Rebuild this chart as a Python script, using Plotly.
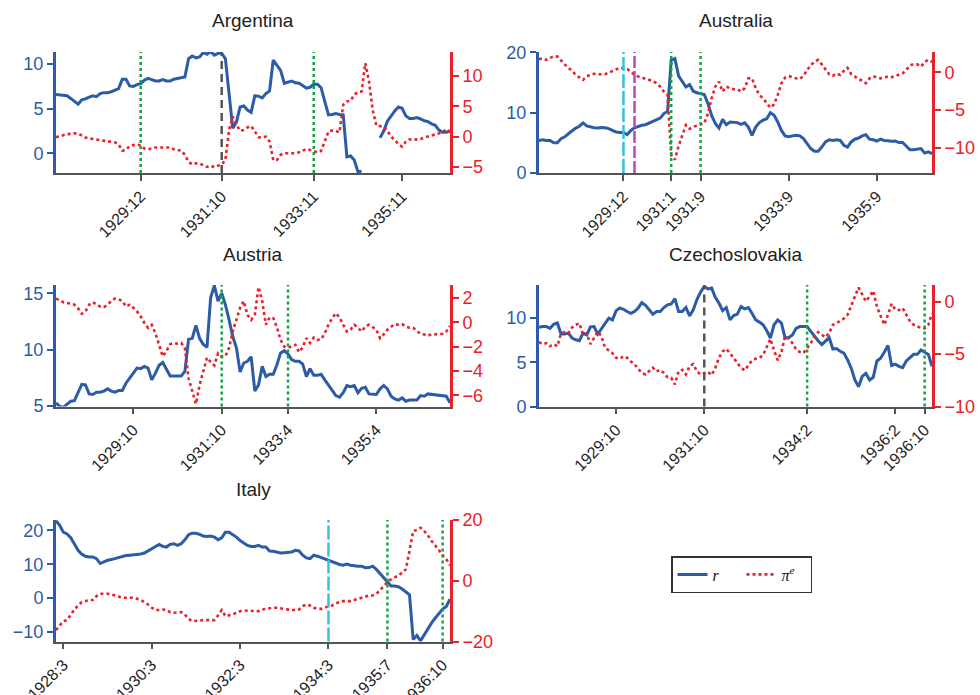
import plotly.graph_objects as go

# ---------------- data ----------------
months = [f"{y}:{m}" for y in range(1928, 1937) for m in range(1, 13)]

arg_r = [6.6, 6.57, 6.5, 6.45, 6.15, 5.85, 5.5, 6.0, 6.1, 6.3,
         6.45, 6.35, 6.7, 6.8, 6.8, 6.9, 7.1, 7.25, 8.3, 8.3,
         7.55, 7.5, 7.7, 7.8, 8.2, 8.4, 8.25, 8.1, 8.1, 8.25,
         8.1, 8.1, 8.3, 8.4, 8.45, 8.55, 10.6, 10.9, 10.7, 10.8,
         11.3, 11.1, 11.4, 11.0, 11.2, 11.2, 10.6, 6.9, 2.8, 3.5,
         5.2, 5.3, 4.85, 4.6, 6.45, 6.4, 6.2, 6.7, 7.0, 10.45,
         9.8, 9.3, 7.85, 8.0, 8.1, 7.9, 7.85, 7.6, 7.3, 7.4,
         7.75, 7.75, 7.35, 5.8, 4.3, 4.35, 4.45, 4.35, 4.3, -0.4,
         -0.3, -0.75, -2.05, -2.0, None, None, None, None, 1.75, 2.5,
         3.6, 4.2, 4.75, 5.2, 5.05, 4.2, 3.9, 3.9, 4.0, 3.85,
         3.65, 3.55, 3.3, 3.15, 2.6, 2.35, 2.35, 2.5]
arg_pi = [-0.1, 0.1, 0.3, 0.4, 0.45, 0.55, 0.5, 0.15, -0.15, -0.3,
          -0.4, -0.45, -0.5, -0.6, -0.8, -0.8, -0.95, -1.25, -2.35, -2.2,
          -1.55, -1.4, -1.3, -1.45, -1.95, -2.1, -1.9, -1.8, -1.8, -1.75,
          -1.8, -1.8, -2.1, -2.25, -2.3, -3.0, -4.15, -4.6, -4.4, -4.45,
          -4.7, -5.0, -4.8, -5.05, -4.8, -4.6, -3.85, 1.1, 3.3, 1.95,
          0.95, 1.1, 1.5, 1.75, 0.85, -0.1, -0.15, 0.0, -0.8, -3.85,
          -3.85, -3.0, -2.75, -2.75, -2.65, -2.75, -2.6, -2.35, -2.05, -2.2,
          -2.35, -2.6, -2.35, -0.8, 0.85, 1.0, 0.95, 0.7, 5.25, 5.8,
          5.9, 6.9, 7.35, 7.45, 12.1, 9.1, 4.4, 1.8, 1.75, 1.65,
          0.95, 0.0, -0.55, -1.25, -1.65, -0.85, -0.45, -0.55, -0.45, -0.4,
          -0.15, 0.0, 0.15, 0.4, 0.5, 0.7, 1.25, 0.7]
arg_ticks = ["1929:12", "1931:10", "1933:11", "1935:11"]
arg_dotted = ["1929:12", "1933:11"]
arg_dashed = ["1931:10"]

aus_r = [5.4, 5.5, 5.4, 5.4, 5.0, 5.0, 5.7, 6.0, 6.5, 7.05,
         7.45, 7.75, 8.3, 7.8, 7.6, 7.5, 7.45, 7.55, 7.5, 7.35,
         7.05, 6.8, 6.7, 6.7, 6.35, 7.05, 7.5, 7.75, 7.9, 8.0,
         8.3, 8.55, 8.85, 9.1, 9.85, 10.2, 18.7, 18.95, 16.1, 15.1,
         14.25, 14.65, 13.55, 13.3, 13.15, 13.0, 11.5, 9.55, 8.2, 7.45,
         8.9, 8.0, 8.45, 8.35, 8.35, 8.05, 8.3, 7.6, 6.25, 7.6,
         8.35, 8.75, 9.0, 10.0, 9.55, 8.45, 7.05, 6.15, 6.0, 6.15,
         6.25, 6.15, 5.7, 4.85, 4.05, 3.6, 3.6, 4.3, 5.15, 5.5,
         5.4, 5.5, 5.4, 4.6, 4.3, 5.15, 5.6, 5.8, 6.15, 6.35,
         5.6, 5.5, 5.3, 5.6, 5.4, 5.35, 5.25, 5.3, 5.05, 5.05,
         4.4, 3.85, 3.85, 3.9, 4.05, 3.3, 3.5, 3.2]
aus_pi = [1.75, 1.85, 1.65, 1.95, 2.15, 2.1, 1.5, 1.05, 0.6, 0.2,
          -0.35, -0.7, -1.0, -0.5, -0.35, -0.2, -0.25, -0.2, -0.25, -0.05,
          0.2, 0.45, 0.6, 0.55, 0.45, 0.1, -0.35, -0.55, -0.7, -0.8,
          -0.95, -1.15, -1.45, -1.9, -2.55, -3.0, -11.0, -11.6, -9.8, -8.3,
          -7.0, -7.5, -7.2, -7.1, -6.9, -6.75, -5.45, -3.45, -1.9, -1.25,
          -2.55, -1.9, -2.1, -2.25, -2.25, -2.55, -2.1, -0.8, -0.8, -2.1,
          -3.0, -3.45, -4.1, -4.7, -4.25, -3.0, -1.45, -0.7, -0.5, -0.7,
          -0.8, -0.9, -0.45, 0.3, 0.95, 1.4, 1.65, 1.05, 0.45, -0.25,
          -0.45, -0.15, -0.35, 0.2, 0.6, -0.25, -0.55, -0.9, -1.1, -1.45,
          -0.8, -0.55, -0.65, -0.8, -0.7, -0.55, -0.65, -0.45, -0.25, -0.15,
          0.3, 0.95, 1.05, 1.05, 0.75, 1.4, 1.65, 1.4]
aus_ticks = ["1929:12", "1931:1", "1931:9", "1933:9", "1935:9"]
aus_dotted = ["1931:1", "1931:9"]
aus_cyan = ["1929:12"]
aus_magenta = ["1930:3"]

aut_r = [5.25, 4.95, 4.85, 5.1, 5.4, 5.45, 6.1, 6.9, 6.85, 6.05,
         6.0, 6.2, 6.2, 6.3, 6.5, 6.3, 6.2, 6.35, 6.35, 7.0,
         7.45, 7.9, 8.35, 8.3, 8.5, 8.35, 7.3, 7.9, 8.6, 8.85,
         8.2, 7.65, 7.65, 7.65, 7.65, 8.05, 10.9, 11.0, 12.15, 11.0,
         10.45, 10.2, 14.6, 15.7, 14.3, 15.0, 14.0, 12.65, 11.15, 10.15,
         8.0, 8.8, 8.95, 9.35, 6.3, 6.85, 8.5, 7.6, 7.8, 7.8,
         8.65, 9.7, 9.9, 9.6, 9.1, 8.95, 8.95, 8.7, 7.6, 8.3,
         7.7, 7.7, 7.8, 7.3, 6.85, 6.35, 5.9, 5.75, 6.15, 6.8,
         6.7, 6.8, 6.15, 6.55, 6.65, 6.05, 6.0, 6.0, 6.5, 6.8,
         6.5, 5.85, 5.6, 5.5, 5.7, 5.4, 5.5, 5.5, 5.5, 5.9,
         5.85, 6.05, 6.0, 6.0, 5.9, 5.9, 5.85, 5.25]
aut_pi = [1.95, 1.8, 1.65, 1.6, 1.5, 1.45, 1.15, 0.7, 0.9, 1.45,
          1.65, 1.45, 1.3, 1.25, 1.45, 1.75, 1.95, 1.9, 1.75, 1.3,
          1.45, 1.2, 0.9, 0.5, -0.05, -0.45, -0.2, -0.9, -1.85, -2.8,
          -2.35, -1.8, -1.7, -1.75, -1.7, -2.1, -4.6, -5.55, -6.7, -5.15,
          -4.05, -2.9, -3.25, -3.55, -2.55, -2.8, -2.8, -2.1, -0.75, 0.2,
          1.2, 1.75, 0.6, 0.2, 0.65, 2.9, 1.75, -0.2, 0.4, 0.35,
          -0.4, -1.45, -2.0, -2.1, -2.0, -1.85, -2.45, -2.05, -1.3, -1.7,
          -1.25, -1.45, -1.4, -0.9, -0.2, 0.35, 0.75, 0.4, -0.2, -0.75,
          -0.6, -0.2, -0.45, -0.75, -0.35, -0.2, -0.4, -0.6, -1.3, -1.0,
          -0.6, -0.35, -0.15, -0.2, -0.15, -0.35, -0.45, -0.45, -0.7, -0.95,
          -1.0, -1.1, -1.0, -1.0, -1.0, -0.95, -0.75, -0.3]
aut_ticks = ["1929:10", "1931:10", "1933:4", "1935:4"]
aut_dotted = ["1931:10", "1933:4"]

cze_r = [8.95, 9.05, 9.05, 8.85, 9.3, 9.45, 8.2, 8.2, 8.3, 7.75,
         7.55, 7.45, 8.3, 8.1, 9.0, 9.05, 8.2, 8.85, 9.45, 10.0,
         9.8, 10.85, 11.15, 11.0, 10.75, 10.55, 10.75, 11.15, 11.75, 11.45,
         10.95, 10.45, 10.75, 10.75, 11.2, 11.5, 11.6, 12.2, 10.75, 10.75,
         11.2, 10.25, 10.95, 12.1, 12.95, 13.6, 13.3, 13.4, 12.35, 11.7,
         10.85, 11.2, 9.8, 10.3, 10.45, 11.3, 11.05, 11.2, 10.55, 9.8,
         9.55, 9.25, 8.6, 7.75, 9.25, 9.8, 9.45, 7.75, 7.8, 8.1,
         8.85, 9.05, 9.05, 9.05, 8.5, 7.9, 7.45, 7.0, 7.35, 7.8,
         6.5, 6.55, 6.25, 6.05, 5.3, 4.35, 3.0, 2.25, 3.4, 3.75,
         3.0, 3.3, 5.15, 5.45, 6.15, 6.9, 4.65, 4.8, 4.55, 4.4,
         5.15, 5.55, 5.9, 5.9, 6.4, 6.15, 5.9, 4.55]
cze_pi = [-3.85, -4.05, -3.95, -4.25, -4.05, -4.25, -3.0, -2.9, -3.0, -2.45,
          -2.2, -2.05, -3.15, -3.0, -4.05, -3.45, -2.85, -3.3, -4.4, -4.65,
          -4.9, -5.35, -5.45, -5.2, -5.35, -5.7, -5.95, -6.4, -6.8, -6.95,
          -6.65, -6.3, -6.65, -6.5, -6.8, -7.2, -7.25, -7.9, -6.65, -6.5,
          -6.95, -6.15, -5.95, -6.65, -6.95, -6.8, -6.7, -7.0, -6.3, -5.35,
          -4.75, -4.5, -4.9, -5.35, -5.85, -6.3, -6.55, -6.05, -5.6, -5.45,
          -5.35, -5.1, -4.4, -3.55, -4.65, -5.6, -4.8, -3.3, -3.5, -3.95,
          -4.55, -4.8, -4.9, -4.4, -3.95, -3.3, -2.9, -3.15, -3.4, -3.0,
          -2.2, -2.05, -1.85, -1.6, -1.25, -0.45, 0.5, 1.35, 0.65, 0.05,
          0.5, 1.05, -0.45, -1.4, -2.2, -1.25, -0.2, -0.75, -0.8, -0.6,
          -1.25, -1.85, -2.2, -2.35, -2.5, -2.55, -2.2, -1.1]
cze_ticks = ["1929:10", "1931:10", "1934:2", "1936:2", "1936:10"]
cze_dotted = ["1934:2", "1936:10"]
cze_dashed = ["1931:10"]

ita_r = [22.9, 21.5, 19.5, 19.0, 17.85, 15.9, 14.15, 13.0, 12.4, 12.2,
         12.2, 11.7, 10.25, 10.75, 11.2, 11.4, 11.7, 12.0, 12.5, 12.6,
         12.7, 12.8, 12.9, 13.05, 13.35, 13.95, 14.65, 15.3, 15.9, 15.3,
         15.1, 15.9, 16.1, 15.6, 16.1, 17.25, 18.75, 19.2, 19.2, 18.85,
         18.35, 18.25, 18.35, 18.05, 17.25, 17.85, 19.5, 19.5, 18.85, 18.05,
         17.05, 16.3, 15.6, 15.3, 15.3, 15.6, 15.1, 15.1, 13.95, 13.85,
         13.65, 13.35, 13.45, 13.55, 13.65, 14.15, 13.95, 12.7, 11.9, 11.7,
         12.7, 12.4, 12.0, 11.4, 11.2, 10.75, 10.25, 9.95, 9.75, 10.05,
         9.75, 9.55, 9.45, 9.45, 9.0, 9.05, 9.45, 8.5, 7.3, 6.15,
         4.9, 3.6, 3.6, 3.4, 2.7, 1.95, 1.0, -12.2, -11.0, -12.6,
         -10.75, -9.05, -7.3, -5.85, -4.4, -3.2, -2.45, -0.3]
ita_pi = [-16.25, -14.7, -13.3, -12.95, -11.1, -9.45, -8.15, -7.05, -6.7, -6.35,
          -6.35, -5.05, -4.3, -4.2, -4.3, -4.5, -4.85, -5.3, -5.6, -5.6,
          -5.6, -5.6, -5.95, -6.35, -7.05, -7.8, -8.9, -9.65, -9.65, -9.45,
          -9.65, -10.35, -10.55, -10.35, -10.35, -11.1, -12.55, -13.3, -13.3, -13.1,
          -12.95, -12.95, -12.95, -12.95, -11.45, -9.65, -11.65, -11.45, -11.1, -10.55,
          -10.0, -9.8, -9.8, -9.8, -9.8, -10.0, -9.45, -9.25, -8.9, -8.9,
          -8.9, -9.1, -9.45, -9.65, -9.65, -9.65, -9.45, -8.35, -7.8, -8.15,
          -8.9, -9.25, -9.25, -8.9, -8.35, -8.15, -7.45, -7.05, -6.7, -6.7,
          -6.7, -6.35, -5.95, -5.6, -5.05, -4.85, -4.85, -4.3, -3.1, -1.75,
          -0.45, 0.45, 1.0, 1.75, 2.65, 3.75, 9.8, 16.35, 16.7, 17.45,
          16.35, 14.95, 13.1, 11.65, 10.1, 8.35, 7.05, 5.05]
ita_ticks = ["1928:3", "1930:3", "1932:3", "1934:3", "1935:7", "1936:10"]
ita_dotted = ["1935:7", "1936:10"]
ita_cyan = ["1934:3"]

# ---------------- helpers / styles ----------------
W, H = 980, 695
BLUE = "#2c5ca8"
RED = "#e8212b"
GREEN = "#15a34a"
GRAY = "#555555"
CYAN = "#35c4de"
MAGENTA = "#c045b5"
FONT = "Liberation Sans, Arial, sans-serif"


def mi(lbl):
    y, m = lbl.split(":")
    return (int(y) - 1928) * 12 + int(m) - 1


x_all = [mi(s) for s in months]

line_styles = {
    "dotted": dict(color=GREEN, width=2.5, dash="dot"),
    "dashed": dict(color=GRAY, width=2.5, dash="8px,5px"),
    "cyan": dict(color=CYAN, width=2.5, dash="14px,3px"),
    "magenta": dict(color=MAGENTA, width=2.5, dash="12px,3px"),
}

panels = [
    dict(title="Argentina", r=arg_r, pi=arg_pi, ticks=arg_ticks,
         events={"dotted": arg_dotted, "dashed": arg_dashed},
         box=(56, 450, 52, 173), lr=[-2.2, 11.35], rr=[-6.0, 13.95],
         lt=[0, 5, 10], rt=[-5, 0, 5, 10]),
    dict(title="Australia", r=aus_r, pi=aus_pi, ticks=aus_ticks,
         events={"cyan": aus_cyan, "magenta": aus_magenta, "dotted": aus_dotted},
         box=(539, 932, 52, 173), lr=[0, 20.05], rr=[-13.37, 2.7],
         lt=[0, 10, 20], rt=[-10, -5, 0]),
    dict(title="Austria", r=aut_r, pi=aut_pi, ticks=aut_ticks,
         events={"dotted": aut_dotted},
         box=(56, 450, 285, 406.5), lr=[4.93, 15.74], rr=[-6.92, 3.07],
         lt=[5, 10, 15], rt=[-6, -4, -2, 0, 2]),
    dict(title="Czechoslovakia", r=cze_r, pi=cze_pi, ticks=cze_ticks,
         events={"dashed": cze_dashed, "dotted": cze_dotted},
         box=(539, 932, 285, 406.5), lr=[0, 13.75], rr=[-10, 1.6],
         lt=[0, 5, 10], rt=[-10, -5, 0]),
    dict(title="Italy", r=ita_r, pi=ita_pi, ticks=ita_ticks,
         events={"cyan": ita_cyan, "dotted": ita_dotted},
         box=(56, 450, 520, 641.5), lr=[-12.8, 23.1], rr=[-20, 20],
         lt=[-10, 0, 10, 20], rt=[-20, 0, 20]),
]

fig = go.Figure()
layout = {}
shapes = []
annotations = []

for i, p in enumerate(panels):
    xn = i + 1
    yl = 2 * i + 1
    yr = 2 * i + 2
    xname = "x" if xn == 1 else f"x{xn}"
    ylname = "y" if yl == 1 else f"y{yl}"
    yrname = f"y{yr}"
    x0, x1, ytop, ybot = p["box"]
    xdom = [x0 / W, x1 / W]
    ydom = [1 - ybot / H, 1 - ytop / H]

    layout["xaxis" if xn == 1 else f"xaxis{xn}"] = dict(
        domain=xdom, anchor=ylname, range=[0, 107], automargin=False,
        showgrid=False, zeroline=False, showline=True, linecolor=GRAY, linewidth=1.5,
        ticks="outside", tickcolor=GRAY, ticklen=6, tickwidth=1.5,
        tickvals=[mi(t) for t in p["ticks"]], ticktext=p["ticks"], tickangle=-45,
        tickfont=dict(family=FONT, size=16, color="#222222"),
    )
    layout["yaxis" if yl == 1 else f"yaxis{yl}"] = dict(
        domain=ydom, anchor=xname, range=p["lr"], side="left", automargin=False,
        showgrid=False, zeroline=False, showline=True, linecolor=BLUE, linewidth=3,
        ticks="outside", tickcolor=BLUE, ticklen=6, tickwidth=2,
        tickvals=p["lt"], tickfont=dict(family=FONT, size=18, color=BLUE),
    )
    layout[f"yaxis{yr}"] = dict(
        domain=ydom, anchor=xname, overlaying=ylname, range=p["rr"], side="right",
        automargin=False,
        showgrid=False, zeroline=False, showline=True, linecolor=RED, linewidth=3,
        ticks="outside", tickcolor=RED, ticklen=6, tickwidth=2,
        tickvals=p["rt"], tickfont=dict(family=FONT, size=18, color=RED),
    )

    for kind, dates in p["events"].items():
        for d in dates:
            shapes.append(dict(type="line", xref=xname, yref=f"{ylname} domain",
                               x0=mi(d), x1=mi(d), y0=0, y1=1, layer="above",
                               line=line_styles[kind]))

    fig.add_trace(go.Scatter(x=x_all, y=p["pi"], xaxis=xname, yaxis=yrname, mode="lines",
                             line=dict(color=RED, width=2.6, dash="dot"),
                             name="<i>π<sup>e</sup></i>", showlegend=(i == 0),
                             legendrank=2, connectgaps=False))
    fig.add_trace(go.Scatter(x=x_all, y=p["r"], xaxis=xname, yaxis=ylname, mode="lines",
                             line=dict(color=BLUE, width=3),
                             name="<i>r</i>", showlegend=(i == 0),
                             legendrank=1, connectgaps=False))

    annotations.append(dict(text=p["title"], x=(x0 + x1) / 2 / W, y=1 - (ytop - 31) / H,
                            xref="paper", yref="paper", showarrow=False,
                            xanchor="center", yanchor="middle",
                            font=dict(family=FONT, size=19, color="#222222")))

fig.update_layout(
    width=W, height=H, margin=dict(l=0, r=0, t=0, b=0, autoexpand=False),
    paper_bgcolor="white", plot_bgcolor="white",
    shapes=shapes, annotations=annotations, showlegend=True,
    legend=dict(orientation="h", x=671 / W, y=1 - 556 / H, xanchor="left", yanchor="top",
                bordercolor="#333333", borderwidth=1.5, bgcolor="white",
                font=dict(family="Liberation Serif, DejaVu Serif, serif", size=16, color="#111111"),
                traceorder="normal", itemwidth=30, entrywidth=24, tracegroupgap=0),
    **layout,
)

fig.write_html("out.html", config={"displayModeBar": False},
               post_script="document.body.style.margin='0';document.body.style.overflow='hidden';")
